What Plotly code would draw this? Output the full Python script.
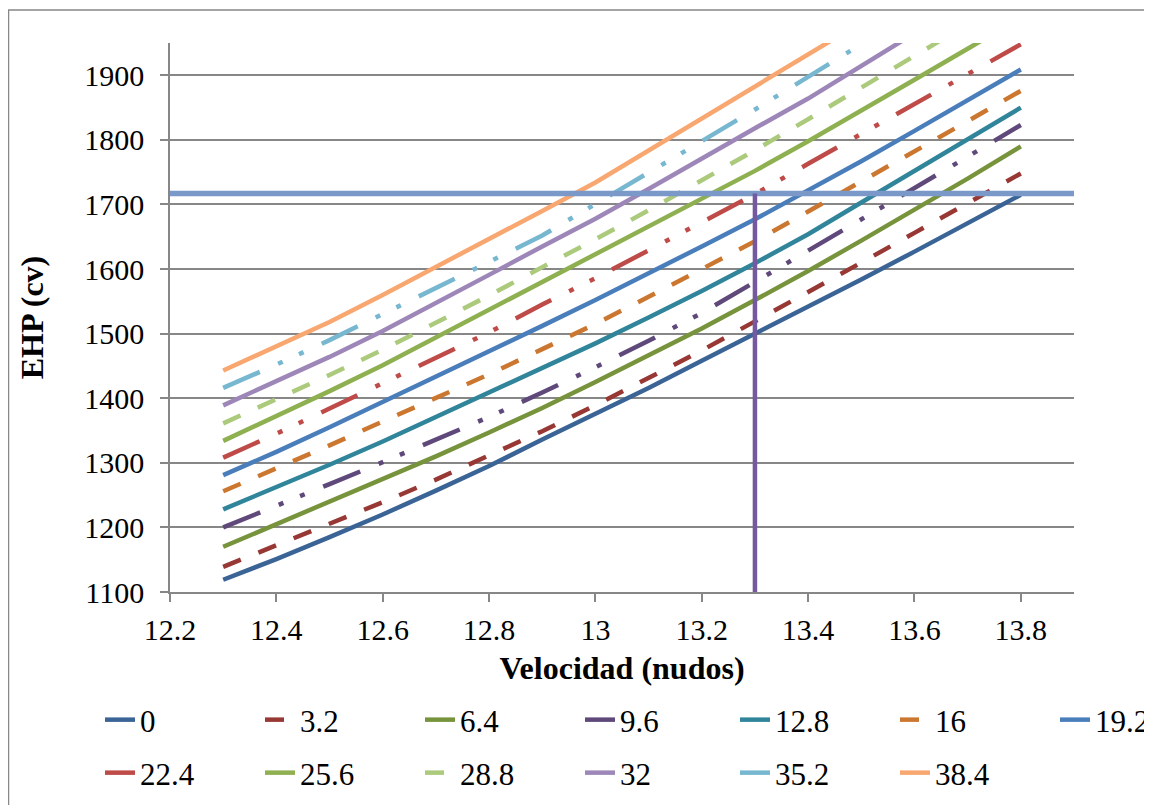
import plotly.graph_objects as go

# ---------------- data ----------------
speed = [12.3, 12.4, 12.5, 12.6, 12.7, 12.8, 12.9, 13.0,
         13.1, 13.2, 13.3, 13.4, 13.5, 13.6, 13.7, 13.8]

series_names = ["0", "3.2", "6.4", "9.6", "12.8", "16", "19.2",
                "22.4", "25.6", "28.8", "32", "35.2", "38.4"]

ehp_0    = [1119, 1151, 1185, 1220, 1257, 1295, 1336, 1376, 1416, 1458, 1500, 1541, 1584, 1627, 1671, 1715]
ehp_3_2  = [1139, 1172, 1205, 1239, 1274, 1311, 1349, 1389, 1431, 1474, 1519, 1564, 1610, 1656, 1702, 1748]
ehp_6_4  = [1170, 1205, 1240, 1275, 1310, 1347, 1385, 1425, 1466, 1508, 1552, 1597, 1644, 1692, 1740, 1790]
ehp_9_6  = [1200, 1233, 1267, 1301, 1336, 1371, 1409, 1448, 1489, 1532, 1580, 1628, 1677, 1725, 1774, 1823]
ehp_12_8 = [1228, 1262, 1297, 1333, 1371, 1409, 1447, 1485, 1525, 1566, 1609, 1654, 1703, 1752, 1800, 1850]
ehp_16   = [1256, 1291, 1327, 1364, 1401, 1437, 1476, 1515, 1557, 1600, 1643, 1689, 1735, 1782, 1829, 1876]
ehp_19_2 = [1281, 1317, 1355, 1394, 1433, 1472, 1512, 1552, 1593, 1635, 1677, 1722, 1767, 1814, 1861, 1909]
ehp_22_4 = [1308, 1345, 1384, 1423, 1463, 1502, 1545, 1586, 1629, 1672, 1716, 1763, 1809, 1856, 1901, 1948]
ehp_25_6 = [1334, 1372, 1411, 1451, 1494, 1537, 1580, 1623, 1665, 1708, 1752, 1798, 1845, 1893, 1941, 1990]
ehp_28_8 = [1361, 1398, 1436, 1475, 1517, 1559, 1603, 1646, 1691, 1737, 1784, 1832, 1881, 1930, 1979, 2028]
ehp_32   = [1389, 1426, 1464, 1504, 1547, 1591, 1635, 1678, 1724, 1772, 1818, 1864, 1914, 1964, 2015, 2066]
ehp_35_2 = [1416, 1452, 1490, 1530, 1570, 1611, 1652, 1700, 1749, 1798, 1847, 1897, 1947, 1998, 2049, 2100]
ehp_38_4 = [1443, 1480, 1518, 1560, 1603, 1646, 1690, 1734, 1783, 1833, 1880, 1929, 1979, 2030, 2081, 2132]

all_series = [ehp_0, ehp_3_2, ehp_6_4, ehp_9_6, ehp_12_8, ehp_16, ehp_19_2,
              ehp_22_4, ehp_25_6, ehp_28_8, ehp_32, ehp_35_2, ehp_38_4]

# reference (design) point
ref_speed = 13.3
ref_ehp = 1717

x_range = [12.2, 13.9]
y_range = [1100, 1950]
x_ticks = [12.2, 12.4, 12.6, 12.8, 13.0, 13.2, 13.4, 13.6, 13.8]
x_ticklabels = ["12.2", "12.4", "12.6", "12.8", "13", "13.2", "13.4", "13.6", "13.8"]
y_ticks = [1100, 1200, 1300, 1400, 1500, 1600, 1700, 1800, 1900]

# ---------------- styles ----------------
colors = ["#3B6496", "#983834", "#77933C", "#5F497A", "#31859B", "#CC7730", "#4A7EBB",
          "#BE4B48", "#8EB050", "#ACCA7C", "#9D87B8", "#77B7D0", "#F9A771"]
DASHED = "19px,19px"
DASHDOT = "40px,20px,5px,18px,5px,20px"
dashes = ["solid", DASHED, "solid", DASHDOT, "solid", DASHED, "solid",
          DASHDOT, "solid", DASHED, "solid", DASHDOT, "solid"]
# legend block each series goes into (two blocks per legend row)
legend_ids = ["legend", "legend", "legend", "legend", "legend2", "legend2", "legend2",
              "legend3", "legend3", "legend3", "legend3", "legend4", "legend4"]

FONT = "Liberation Serif, Times New Roman, serif"
GRID = "#878787"

fig = go.Figure()
for i, (name, ys) in enumerate(zip(series_names, all_series)):
    fig.add_trace(go.Scatter(
        x=speed, y=ys, name=name, mode="lines",
        line=dict(color=colors[i], width=4.5, dash=dashes[i]),
        legend=legend_ids[i],
    ))

# reference lines
fig.add_trace(go.Scatter(x=x_range, y=[ref_ehp, ref_ehp], mode="lines",
                         line=dict(color="#7A99C9", width=5.5), showlegend=False,
                         hoverinfo="skip"))
fig.add_trace(go.Scatter(x=[ref_speed, ref_speed], y=[y_range[0], ref_ehp], mode="lines",
                         line=dict(color="#7559A0", width=4.5), showlegend=False,
                         hoverinfo="skip"))

# page body has an 8px margin -> figure is drawn at (8, 8) in the window
OFF = 8
W, H = 1152 - OFF, 805 - OFF
plot_left, plot_right, plot_top, plot_bottom = 170, 1074, 43, 592   # window pixels
ml, mt = plot_left - OFF, plot_top - OFF
mr, mb = (W + OFF) - plot_right, (H + OFF) - plot_bottom
pw, ph = plot_right - plot_left, plot_bottom - plot_top

def px_x(p):
    return (p - plot_left) / pw

def px_y(p):
    return (plot_bottom - p) / ph

leg_font = dict(family=FONT, size=31, color="black")
def leg(x_text, y_center):
    return dict(orientation="h", x=px_x(x_text - 41), y=px_y(y_center),
                xanchor="left", yanchor="middle",
                entrywidth=115, entrywidthmode="pixels",
                font=leg_font, bgcolor="rgba(0,0,0,0)")

fig.update_layout(
    width=W, height=H,
    margin=dict(l=ml, r=mr, t=mt, b=mb, autoexpand=False),
    paper_bgcolor="white", plot_bgcolor="white",
    font=dict(family=FONT, size=30, color="black"),
    xaxis=dict(
        range=x_range, tickmode="array", tickvals=x_ticks, ticktext=x_ticklabels,
        showgrid=False, zeroline=False,
        showline=True, linecolor=GRID, linewidth=1.5,
        ticks="outside", ticklen=8, tickwidth=1.5, tickcolor=GRID,
        ticklabelstandoff=2,
        tickfont=dict(family=FONT, size=30, color="black"),
        title=dict(text="Velocidad (nudos)", standoff=12,
                   font=dict(family=FONT, size=32, color="black", weight="bold")),
    ),
    yaxis=dict(
        range=y_range, tickmode="array", tickvals=y_ticks,
        showgrid=True, gridcolor=GRID, gridwidth=1.5, zeroline=False,
        showline=True, linecolor=GRID, linewidth=1.5,
        ticks="outside", ticklen=8, tickwidth=1.5, tickcolor=GRID,
        ticklabelstandoff=10,
        tickfont=dict(family=FONT, size=30, color="black"),
        title=dict(text="EHP (cv)", standoff=31,
                   font=dict(family=FONT, size=32, color="black", weight="bold")),
    ),
    legend=leg(141, 720),
    legend2=leg(136 + 4 * 160, 720),
    legend3=leg(141, 773),
    legend4=leg(136 + 4 * 160, 773),
    shapes=[dict(type="rect", xref="paper", yref="paper",
                 x0=px_x(8.5), x1=px_x(1170), y0=px_y(830), y1=px_y(10),
                 line=dict(color=GRID, width=1.5), fillcolor="rgba(0,0,0,0)", layer="below")],
)

fig.write_html("out.html")
